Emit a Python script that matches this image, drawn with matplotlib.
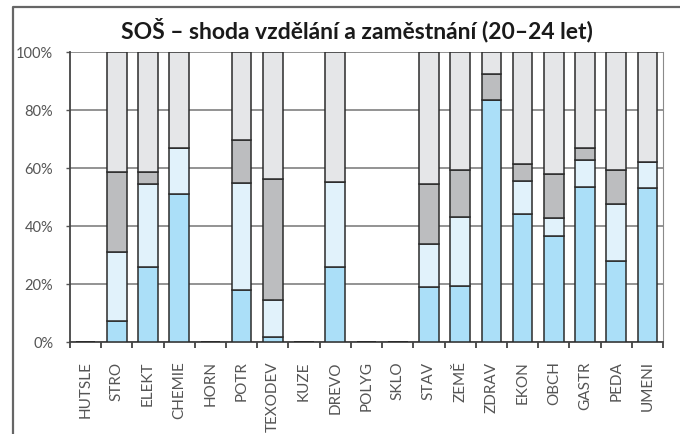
import numpy as np
import matplotlib
matplotlib.use("Agg")
from matplotlib import pyplot as plt
from matplotlib.lines import Line2D

# obory SOŠ a podíly (%) podle shody vzdělání a zaměstnání
obory = ['HUTSLE', 'STRO', 'ELEKT', 'CHEMIE', 'HORN', 'POTR', 'TEXODEV', 'KUZE',
         'DREVO', 'POLYG', 'SKLO', 'STAV', 'ZEMĚ', 'ZDRAV', 'EKON', 'OBCH',
         'GASTR', 'PEDA', 'UMENI']

shoda      = [0, 7.3, 25.7, 51.2, 0, 17.8, 1.6, 0, 25.7, 0, 0, 19.0, 19.4, 83.3, 44.1, 36.4, 53.6, 28.0, 53.0]
pribuzne   = [0, 23.7, 28.7, 15.7, 0, 36.9, 13.0, 0, 29.4, 0, 0, 14.8, 23.7, 0.0, 11.5, 6.2, 9.3, 19.6, 9.0]
castecne   = [0, 27.7, 4.3, 0.0, 0, 15.0, 41.5, 0, 0.0, 0, 0, 20.6, 16.2, 9.1, 5.9, 15.3, 4.0, 11.7, 0.0]
neshoda    = [0, 41.3, 41.3, 33.1, 0, 30.3, 43.9, 0, 44.9, 0, 0, 45.6, 40.7, 7.6, 38.5, 42.1, 33.1, 40.7, 38.0]

barvy = ['#abdff8', '#e1f2fb', '#bcbdbf', '#e5e6e8']

plt.rcParams['font.family'] = ['Lato', 'DejaVu Sans']

fig = plt.figure(figsize=(6.8, 4.34), dpi=100)
ax = fig.add_axes([70/680, 92/434, 593/680, 290/434])

x = np.arange(len(obory))
spodek = np.zeros(len(obory))
for hodnoty, barva in zip([shoda, pribuzne, castecne, neshoda], barvy):
    ax.bar(x, hodnoty, bottom=spodek, width=0.63, color=barva,
           edgecolor='#2b2b2b', linewidth=1.1, zorder=3)
    spodek += np.array(hodnoty)

ax.set_xlim(-0.5, len(obory) - 0.5)
ax.set_ylim(0, 100)
ax.set_yticks([0, 20, 40, 60, 80, 100])
ax.set_yticklabels(['0%', '20%', '40%', '60%', '80%', '100%'],
                   fontsize=10.5, color='#555555')
ax.yaxis.grid(True, color='#8a8a8a', linewidth=1.3, zorder=0)
ax.set_axisbelow(True)

ax.set_xticks(x)
ax.set_xticklabels(obory, rotation=90, fontsize=11, color='#555555')
ax.set_xticks(np.arange(-0.5, len(obory)), minor=True)
ax.tick_params(axis='x', which='major', length=0, pad=14)
ax.tick_params(axis='x', which='minor', length=4, width=1.2, color='#333333')
ax.tick_params(axis='y', length=3, width=1, color='#555555', pad=9)

for s in ['left', 'bottom']:
    ax.spines[s].set_color('#444444')
    ax.spines[s].set_linewidth(1.3)
ax.spines['right'].set_color('#8a8a8a')
ax.spines['top'].set_visible(False)

fig.text(357/680, 1 - 30/434, 'SOŠ – shoda vzdělání a zaměstnání (20–24 let)',
         ha='center', va='center', fontsize=16.5, weight='bold', color='#1a1a1a')

# rámeček kolem grafu
fig.add_artist(Line2D([13/680, 13/680, 1.0], [0.0, 1 - 7/434, 1 - 7/434],
                      transform=fig.transFigure, color='#666666', linewidth=1.6))

fig.savefig('out.png', dpi=100)
